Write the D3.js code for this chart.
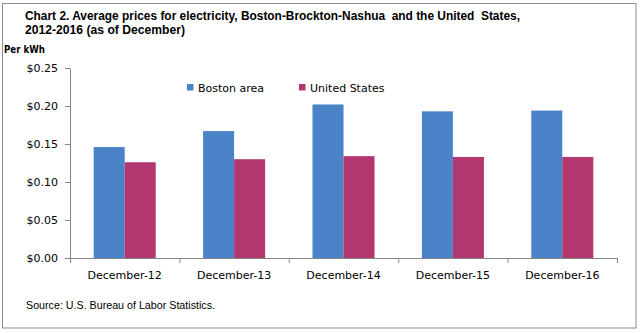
<!DOCTYPE html>
<html>
<head>
<meta charset="utf-8">
<script src="https://cdn.jsdelivr.net/npm/d3@7/dist/d3.min.js"></script>
<style>
  html, body { margin: 0; padding: 0; background: #fff; }
  svg { display: block; }
</style>
</head>
<body>
<svg id="chart" width="641" height="333"></svg>
<script>
const categories = ["December-12", "December-13", "December-14", "December-15", "December-16"];
const seriesNames = ["Boston area", "United States"];
const bostonValues = [0.146, 0.167, 0.202, 0.193, 0.194];
const usValues = [0.126, 0.130, 0.134, 0.133, 0.133];
const yTickValues = [0, 0.05, 0.10, 0.15, 0.20, 0.25];
const titleLines = ["Chart 2. Average prices for electricity, Boston-Brockton-Nashua  and the United  States,", "2012-2016 (as of December)"];
const yAxisTitle = "Per kWh";
const sourceText = "Source: U.S. Bureau of Labor Statistics.";

const colors = ["#4a83c8", "#b2366f"];
const axisColor = "#868686";

const svg = d3.select("#chart");

// outer border
svg.append("rect")
  .attr("x", 2.5).attr("y", 3.5)
  .attr("width", 633.5).attr("height", 324.5)
  .attr("fill", "#fff").attr("stroke", "#8c8c8c").attr("stroke-width", 1);

// titles
const titleFont = "'Liberation Sans Narrow', 'Arial Narrow', 'Liberation Sans', Arial, sans-serif";
svg.append("text").attr("x", 25).attr("y", 20)
  .attr("font-family", titleFont).attr("font-weight", "bold").attr("font-size", 12)
  .attr("textLength", 495).attr("lengthAdjust", "spacingAndGlyphs")
  .style("white-space", "pre")
  .text(titleLines[0]);
svg.append("text").attr("x", 25).attr("y", 34)
  .attr("font-family", titleFont).attr("font-weight", "bold").attr("font-size", 12)
  .attr("textLength", 160).attr("lengthAdjust", "spacingAndGlyphs")
  .text(titleLines[1]);

svg.append("text").attr("x", 4).attr("y", 53)
  .attr("font-family", "'DejaVu Sans', Verdana, sans-serif").attr("font-weight", "bold").attr("font-size", 10.5)
  .attr("textLength", 41).attr("lengthAdjust", "spacingAndGlyphs")
  .text(yAxisTitle);

// scales
const x0 = d3.scaleBand().domain(categories).range([70, 617]).paddingInner(0.433).paddingOuter(0.2165);
const x1 = d3.scaleBand().domain(seriesNames).range([0, x0.bandwidth()]);
const xb = d3.scaleLinear().domain([0, categories.length]).range([70, 617]);
const y = d3.scaleLinear().domain([0, 0.25]).range([258, 68]);

// bars
const data = categories.map((c, i) => ({ cat: c, vals: [bostonValues[i], usValues[i]] }));
const groups = svg.append("g").selectAll("g").data(data).join("g")
  .attr("transform", d => `translate(${x0(d.cat)},0)`);
groups.selectAll("rect").data(d => d.vals.map((v, j) => ({ name: seriesNames[j], v, j })))
  .join("rect")
  .attr("x", d => x1(d.name))
  .attr("y", d => y(d.v))
  .attr("width", x1.bandwidth())
  .attr("height", d => y(0) - y(d.v))
  .attr("fill", d => colors[d.j]);

// y axis
const yAxis = svg.append("g").attr("transform", "translate(70,0)")
  .call(d3.axisLeft(y).tickValues(yTickValues).tickFormat(d => "$" + d.toFixed(2)).tickSize(5).tickSizeOuter(0).tickPadding(7));
yAxis.select(".domain").attr("stroke", axisColor);
yAxis.selectAll(".tick line").attr("stroke", axisColor);
yAxis.selectAll("text").attr("font-family", "'DejaVu Sans', Verdana, sans-serif").attr("font-size", 11).attr("fill", "#000");

// x axis (boundary ticks)
const xAxisTicks = svg.append("g").attr("transform", "translate(0,258)")
  .call(d3.axisBottom(xb).tickValues(d3.range(categories.length + 1)).tickFormat("").tickSize(5).tickSizeOuter(0));
xAxisTicks.select(".domain").attr("stroke", axisColor);
xAxisTicks.selectAll(".tick line").attr("stroke", axisColor);

// x labels
const xAxisLabels = svg.append("g").attr("transform", "translate(0,258)")
  .call(d3.axisBottom(x0).tickSize(0).tickPadding(13));
xAxisLabels.select(".domain").remove();
xAxisLabels.selectAll("text").attr("font-family", "'DejaVu Sans', Verdana, sans-serif").attr("font-size", 11).attr("fill", "#000");

// legend
const legendX = [187, 299];
const legend = svg.append("g").selectAll("g").data(seriesNames).join("g")
  .attr("transform", (d, i) => `translate(${legendX[i]},84)`);
legend.append("rect").attr("width", 6.5).attr("height", 6.5).attr("fill", (d, i) => colors[i]);
legend.append("text").attr("x", 11).attr("y", 7.5)
  .attr("font-family", "'DejaVu Sans', Verdana, sans-serif").attr("font-size", 11).attr("fill", "#000")
  .text(d => d);

// source
svg.append("text").attr("x", 26).attr("y", 309)
  .attr("font-family", "'Liberation Sans', Arial, sans-serif").attr("font-size", 10.5)
  .attr("textLength", 189).attr("lengthAdjust", "spacingAndGlyphs")
  .text(sourceText);
</script>
</body>
</html>
